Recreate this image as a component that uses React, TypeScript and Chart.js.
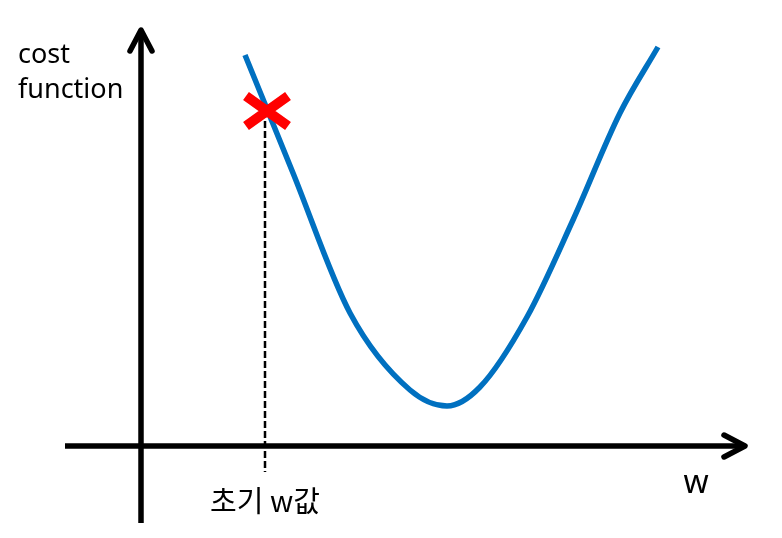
import React, { useEffect, useRef } from "react";
import { Chart, registerables } from "chart.js";

Chart.register(...registerables);

// curve of the cost function (w, cost)
const wValues = [2.08, 3.04, 4.18, 5.38, 6.12, 6.78, 7.72, 8.64, 9.58, 10.34];
const costValues = [7.82, 5.46, 2.66, 1.12, 0.8, 1.18, 2.58, 4.52, 6.66, 7.98];

// initial point
const initialW = [2.48];
const initialCost = [6.7];
const dashBottom = [-0.52];

// axis extents (data units)
const xAxisFrom = -1.52;
const xAxisTo = 12.08;
const yAxisFrom = -1.54;
const yAxisTo = 8.32;

// labels
const yTitleLines = ["cost", "function"];
const xTitle = "w";
const initialLabel = "초기 w값";

const overlay = {
  id: "overlay",
  beforeDatasetsDraw(chart: any) {
    const { ctx, scales } = chart;
    const xs = scales.x;
    const ys = scales.y;
    const ox = xs.getPixelForValue(0);
    const oy = ys.getPixelForValue(0);
    ctx.save();
    ctx.strokeStyle = "#000";
    ctx.lineWidth = 5.5;
    ctx.lineJoin = "round";
    // x axis
    const xl = xs.getPixelForValue(xAxisFrom);
    const xr = xs.getPixelForValue(xAxisTo);
    ctx.beginPath();
    ctx.lineCap = "butt";
    ctx.moveTo(xl, oy);
    ctx.lineTo(xr - 2, oy);
    ctx.stroke();
    ctx.lineCap = "round";
    ctx.beginPath();
    ctx.moveTo(xr - 21, oy - 11);
    ctx.lineTo(xr, oy);
    ctx.lineTo(xr - 21, oy + 11);
    ctx.stroke();
    // y axis
    const yb = ys.getPixelForValue(yAxisFrom);
    const yt = ys.getPixelForValue(yAxisTo);
    ctx.beginPath();
    ctx.lineCap = "butt";
    ctx.moveTo(ox, yb);
    ctx.lineTo(ox, yt + 2);
    ctx.stroke();
    ctx.lineCap = "round";
    ctx.beginPath();
    ctx.moveTo(ox - 11, yt + 21);
    ctx.lineTo(ox, yt);
    ctx.lineTo(ox + 11, yt + 21);
    ctx.stroke();

    // texts
    ctx.fillStyle = "#000";
    ctx.textAlign = "left";
    ctx.textBaseline = "alphabetic";
    ctx.font = '27px "Noto Sans", "Noto Sans CJK KR", sans-serif';
    ctx.fillText(yTitleLines[0], 18, 63);
    ctx.fillText(yTitleLines[1], 18, 98);
    ctx.textAlign = "center";
    ctx.textBaseline = "middle";
    ctx.font = '32px "Noto Sans", "Noto Sans CJK KR", sans-serif';
    ctx.fillText(xTitle, 696, 484);
    ctx.font = '29px "Noto Sans CJK KR", "Noto Sans", sans-serif';
    ctx.fillText(initialLabel, xs.getPixelForValue(initialW[0]), 501);
    ctx.restore();
  },
  afterDatasetsDraw(chart: any) {
    const { ctx, scales } = chart;
    const cx = scales.x.getPixelForValue(initialW[0]) + 2;
    const cy = scales.y.getPixelForValue(initialCost[0]);
    ctx.save();
    ctx.strokeStyle = "#FF0000";
    ctx.lineWidth = 10;
    ctx.lineCap = "butt";
    ctx.beginPath();
    ctx.moveTo(cx - 21, cy - 15);
    ctx.lineTo(cx + 21, cy + 15);
    ctx.moveTo(cx + 21, cy - 15);
    ctx.lineTo(cx - 21, cy + 15);
    ctx.stroke();
    ctx.restore();
  },
};

export default function App() {
  const ref = useRef<HTMLCanvasElement>(null);
  useEffect(() => {
    if (!ref.current) return;
    const chart = new Chart(ref.current, {
      type: "line",
      data: {
        datasets: [
          {
            label: "cost",
            data: wValues.map((w, i) => ({ x: w, y: costValues[i] })),
            borderColor: "#0070C0",
            borderWidth: 5.5,
            pointRadius: 0,
            cubicInterpolationMode: "monotone",
            fill: false,
          },
          {
            label: "initial",
            data: [
              { x: initialW[0], y: initialCost[0] },
              { x: initialW[0], y: dashBottom[0] },
            ],
            borderColor: "#000",
            borderWidth: 2.5,
            borderDash: [7, 3],
            pointRadius: 0,
            fill: false,
          },
        ],
      },
      options: {
        animation: false,
        responsive: false,
        events: [],
        layout: { padding: 0 },
        plugins: {
          legend: { display: false },
          tooltip: { enabled: false },
          title: { display: false },
        },
        scales: {
          x: { type: "linear", display: false, min: -2.82, max: 12.82 },
          y: { type: "linear", display: false, min: -1.84, max: 8.92 },
        },
      },
      plugins: [overlay],
    });
    return () => chart.destroy();
  }, []);
  return (
    <div style={{ position: "fixed", left: 0, top: 0, width: 782, height: 538, background: "#fff" }}>
      <canvas ref={ref} width={782} height={538} style={{ display: "block" }} />
    </div>
  );
}
